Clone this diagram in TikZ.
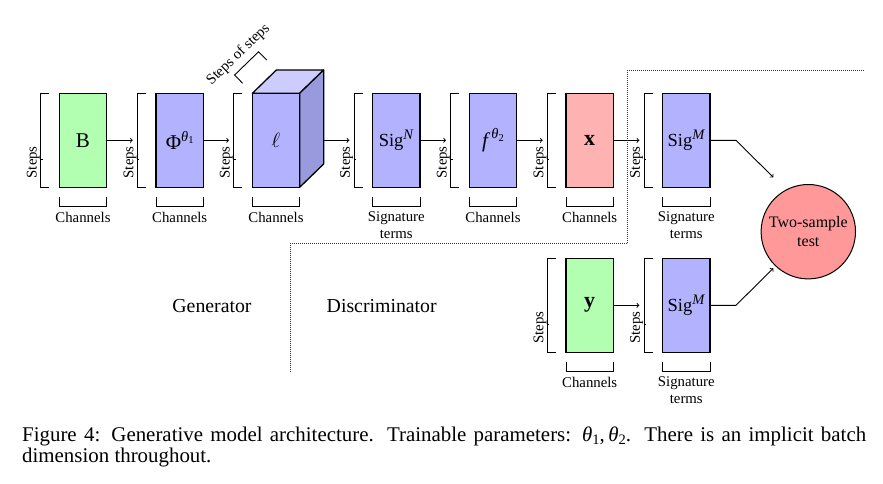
\documentclass[tikz,border=0pt]{standalone}
\usepackage{amsmath}
\usepackage{fontspec}
\setmainfont{Liberation Serif}
\usetikzlibrary{calc}
\definecolor{cgreen}{RGB}{178,255,178}
\definecolor{cblue}{RGB}{178,178,255}
\definecolor{cred}{RGB}{255,178,178}
\definecolor{ccirc}{RGB}{255,153,153}
\definecolor{ctop}{RGB}{204,204,255}
\definecolor{cside}{RGB}{153,153,222}
\newcommand\fsm{\fontsize{14.8}{17}\selectfont}
\newcommand\fcir{\fontsize{16}{18.5}\selectfont}
\newcommand\fbg{\fontsize{19.8}{23.5}\selectfont}
\newcommand\fbx{\fontsize{21}{24}\selectfont}
\newcommand\fcap{\fontsize{20.9}{24}\selectfont}
\newcommand\fsg{\fontsize{18.5}{20}\selectfont}
\newcommand\sups[1]{\raisebox{0.4em}{\fontsize{14.5}{14}\selectfont #1}}
\newcommand\subs[1]{\raisebox{-0.18em}{\fontsize{10.5}{10}\selectfont #1}}
\newcommand\dimbr[2][Channels]{%
  \draw[brk] ([yshift=-9.7pt]#2.south west) -- ([yshift=-18.7pt]#2.south west) -- ([yshift=-18.7pt]#2.south east) -- ([yshift=-9.7pt]#2.south east);
  \node[lbl, anchor=north] (#2-ch) at ([yshift=-24.3pt]#2.south) {#1};
  \draw[brk] ([xshift=-10pt]#2.north west) -- ([xshift=-18.7pt]#2.north west) -- ([xshift=-18.7pt]#2.south west) -- ([xshift=-10pt]#2.south west);
  \draw[brk] ([xshift=-18.7pt,yshift=-18.7pt]#2.west) -- ++(2,0);
  \node[lbl, rotate=90] (#2-st) at ([xshift=-26pt,yshift=-22pt]#2.west) {Steps};
  \coordinate (#2-in) at ([xshift=-23.3pt]#2.west);
}
\begin{document}
\begin{tikzpicture}[x=1pt,y=-1pt,
  box/.style={draw, line width=1.3pt, minimum width=47.3pt, minimum height=94pt, inner sep=0pt, outer sep=0pt, font=\fbx},
  brk/.style={line width=0.9pt},
  lbl/.style={font=\fsm, inner sep=0pt, align=center},
  arr/.style={->, line width=0.9pt},
  dotln/.style={line width=0.7pt, dash pattern=on 0.7pt off 1.3pt, black!80}]
\useasboundingbox (0,0) rectangle (883,483);

% generator row
\node[box, fill=cgreen] (B) at (83,140.3) {B};
\node[box, fill=cblue] (Phi) at (179.7,140.3) {Φ\sups{\textit{θ}\subs{1}}};
\node[box, fill=cblue] (L) at (276,140.3) {\fontsize{22}{24}\selectfont$\ell$};
\draw[line width=1.3pt, fill=ctop, line join=round] (L.north west) -- ++(24,-23.3) -- ++(47.3,0) -- (L.north east) -- cycle;
\draw[line width=1.3pt, fill=cside, line join=round] (L.north east) -- ++(24,-23.3) -- ++(0,94) -- (L.south east) -- cycle;
\coordinate (Lside) at ($(L.east)+(24,0)$);
\node[box, fill=cblue, font=\fsg] (SigN) at (396.3,140.3) {Sig\sups{\textit{N}}};
\node[box, fill=cblue] (F) at (493,140.3) {\textit{f}\kern1pt\sups{\textit{θ}\subs{2}}};
\node[box, fill=cred] (X) at (589.7,140.3) {\fontsize{22}{24}\selectfont\textbf{x}};
\node[box, fill=cblue, font=\fsg] (SigM1) at (686.3,140.3) {Sig\sups{\textit{M}}};

% discriminator second row
\node[box, fill=cgreen] (Y) at (589.7,305.3) {\fontsize{22}{24}\selectfont\textbf{y}};
\node[box, fill=cblue, font=\fsg] (SigM2) at (686.3,305.3) {Sig\sups{\textit{M}}};

% brackets
\dimbr{B}
\dimbr{Phi}
\dimbr{L}
\dimbr[Signature\\terms]{SigN}
\dimbr{F}
\dimbr{X}
\dimbr[Signature\\terms]{SigM1}
\dimbr{Y}
\dimbr[Signature\\terms]{SigM2}

% steps of steps
\draw[brk] ($(L.north west)+(-9.76,-10.04)$) -- ($(L.north west)+(-17.77,-18.28)$) -- ($(L.north west)+(6.23,-41.58)$) -- ($(L.north west)+(14.24,-33.34)$);
\node[lbl, rotate=44] (sos) at ($(L.north west)+(-14,-38.5)$) {Steps of steps};

% arrows
\draw[arr] (B.east) -- (Phi-in);
\draw[arr] (Phi.east) -- (L-in);
\draw[arr] (Lside) -- (SigN-in);
\draw[arr] (SigN.east) -- (F-in);
\draw[arr] (F.east) -- (X-in);
\draw[arr] (X.east) -- (SigM1-in);
\draw[arr] (Y.east) -- (SigM2-in);

% test
\node[draw, circle, fill=ccirc, line width=1pt, minimum size=94.4pt, inner sep=0pt, font=\fcir, align=center] (T) at (808.3,231.7) {Two-sample\\test};
\coordinate (t1) at (773.3,177.3);
\coordinate (t2) at (773.3,268.3);
\draw[arr] (SigM1.east) -- ++(26,0) -- (t1);
\draw[arr] (SigM2.east) -- ++(26,0) -- (t2);

% divider
\draw[dotln] (863.3,70) -- (627.5,70) -- (627.5,243.3) -- (290,243.3) -- (290,372);
\node[font=\fbg] (gen) at (212,306) {Generator};
\node[font=\fbg] (dis) at (381.7,306) {Discriminator};

% caption
\node[font=\fcap, anchor=base west, inner sep=0pt] (cap1) at (22,441) {\makebox[844pt][s]{Figure 4: Generative model architecture. Trainable parameters: \textit{θ}\subs{\fontsize{14.5}{14}\selectfont 1},\,\textit{θ}\subs{\fontsize{14.5}{14}\selectfont 2}. There is an implicit batch}};
\node[font=\fcap, anchor=base west, inner sep=0pt] (cap2) at (22,462) {dimension throughout.};
\end{tikzpicture}
\end{document}
